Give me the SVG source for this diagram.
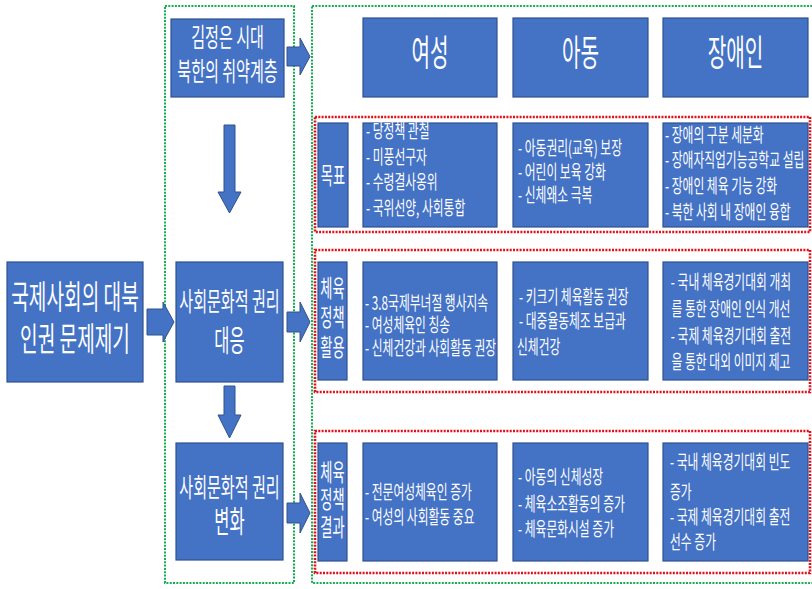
<svg xmlns="http://www.w3.org/2000/svg" width="812" height="589" viewBox="0 0 812 589">
<style>
.box{fill:#4472C4;stroke:#2F528F;stroke-width:1.2}
.arr{fill:#4472C4;stroke:#2F528F;stroke-width:1}
.g{fill:none;stroke:#12B050;stroke-width:2;stroke-dasharray:2 1.3}
.r{fill:none;stroke:#E0101A;stroke-width:2.6;stroke-dasharray:2 1.3}
text{font-family:"Noto Sans CJK KR","Noto Sans",sans-serif;fill:#fff}
.c{text-anchor:middle}
.s{font-size:19px}
</style>
<rect width="812" height="589" fill="#fff"/>
<g id="containers">
<rect class="g" x="165" y="6" width="129" height="577"/>
<rect class="g" x="312" y="6" width="510" height="577"/>
<rect class="r" x="315" y="117" width="495" height="115"/>
<rect class="r" x="315" y="250" width="495" height="142"/>
<rect class="r" x="315" y="431" width="495" height="142"/>
</g>
<g id="connectors">
<polygon class="arr" points="147,309 163,309 163,302 174,322 163,342 163,335 147,335"/>
<polygon class="arr" points="287,47 300,47 300,38 310,56.5 300,75 300,66 287,66"/>
<polygon class="arr" points="287,312 300,312 300,302 310,322 300,342 300,332 287,332"/>
<polygon class="arr" points="287,503 300,503 300,493 310,513 300,533 300,523 287,523"/>
<polygon class="arr" points="224,125 235,125 235,192 241,192 229.5,213 218,192 224,192"/>
<polygon class="arr" points="224,386 235,386 235,415 241,415 229.5,438 218,415 224,415"/>
</g>
<g id="n-intl">
<rect class="box" x="7" y="262" width="136" height="120"/>
<text class="c" font-size="33" transform="translate(75,309) scale(0.58,1)">국제사회의 대북</text>
<text class="c" font-size="33" transform="translate(75,351) scale(0.58,1)">인권 문제제기</text>
</g>
<g id="n-kim">
<rect class="box" x="171" y="19" width="113" height="78"/>
<text class="c" font-size="26" transform="translate(227.5,47) scale(0.58,1)">김정은 시대</text>
<text class="c" font-size="26" transform="translate(227.5,81) scale(0.58,1)">북한의 취약계층</text>
</g>
<g id="n-response">
<rect class="box" x="176" y="262" width="107" height="120"/>
<text class="c" font-size="26" transform="translate(229.5,311) scale(0.58,1)">사회문화적 권리</text>
<text class="c" font-size="30" transform="translate(229.5,351) scale(0.55,1)">대응</text>
</g>
<g id="n-change">
<rect class="box" x="176" y="443" width="107" height="117"/>
<text class="c" font-size="26" transform="translate(229.5,497) scale(0.58,1)">사회문화적 권리</text>
<text class="c" font-size="30" transform="translate(229.5,532) scale(0.55,1)">변화</text>
</g>
<g id="h-women">
<rect class="box" x="363" y="18" width="134" height="79"/>
<text class="c" font-size="36" transform="translate(430,66) scale(0.56,1)">여성</text>
</g>
<g id="h-child">
<rect class="box" x="513" y="18" width="135" height="79"/>
<text class="c" font-size="36" transform="translate(580.5,66) scale(0.56,1)">아동</text>
</g>
<g id="h-disabled">
<rect class="box" x="663" y="18" width="145" height="79"/>
<text class="c" font-size="36" transform="translate(735.5,66) scale(0.56,1)">장애인</text>
</g>
<g id="l-goal">
<rect class="box" x="318" y="123" width="30" height="104"/>
<text class="c" font-size="24" transform="translate(333,184) scale(0.55,1)">목표</text>
</g>
<g id="c-goal-women">
<rect class="box" x="363" y="123" width="134" height="104"/>
<text class="s" transform="translate(366,138) scale(0.62,1)">- 당정책 관철</text>
<text class="s" transform="translate(366,164) scale(0.62,1)">- 미풍선구자</text>
<text class="s" transform="translate(366,189) scale(0.62,1)">- 수령결사옹위</text>
<text class="s" transform="translate(366,215) scale(0.62,1)">- 국위선양, 사회통합</text>
</g>
<g id="c-goal-child">
<rect class="box" x="513" y="123" width="135" height="104"/>
<text class="s" transform="translate(518,155) scale(0.62,1)">- 아동권리(교육) 보장</text>
<text class="s" transform="translate(518,179) scale(0.62,1)">- 어린이 보육 강화</text>
<text class="s" transform="translate(518,202) scale(0.62,1)">- 신체왜소 극복</text>
</g>
<g id="c-goal-disabled">
<rect class="box" x="663" y="123" width="145" height="104"/>
<text class="s" transform="translate(665,142) scale(0.62,1)">- 장애의 구분 세분화</text>
<text class="s" transform="translate(665,167) scale(0.62,1)">- 장애자직업기능공학교 설립</text>
<text class="s" transform="translate(665,193) scale(0.62,1)">- 장애인 체육 기능 강화</text>
<text class="s" transform="translate(665,219) scale(0.62,1)">- 북한 사회 내 장애인 융합</text>
</g>
<g id="l-use">
<rect class="box" x="318" y="262" width="29" height="118"/>
<text class="c" font-size="24" transform="translate(332.5,297) scale(0.55,1)">체육</text>
<text class="c" font-size="24" transform="translate(332.5,326) scale(0.55,1)">정책</text>
<text class="c" font-size="24" transform="translate(332.5,356) scale(0.55,1)">활용</text>
</g>
<g id="c-use-women">
<rect class="box" x="363" y="262" width="134" height="118"/>
<text class="s" transform="translate(365,310) scale(0.62,1)">- 3.8국제부녀절 행사지속</text>
<text class="s" transform="translate(365,332) scale(0.62,1)">- 여성체육인 칭송</text>
<text class="s" transform="translate(365,355) scale(0.62,1)">- 신체건강과 사회활동 권장</text>
</g>
<g id="c-use-child">
<rect class="box" x="513" y="262" width="135" height="118"/>
<text class="s" transform="translate(519,304) scale(0.62,1)">- 키크기 체육활동 권장</text>
<text class="s" transform="translate(519,328) scale(0.62,1)">- 대중율동체조 보급과</text>
<text class="s" transform="translate(517,354) scale(0.62,1)">신체건강</text>
</g>
<g id="c-use-disabled">
<rect class="box" x="663" y="262" width="145" height="118"/>
<text class="s c" transform="translate(731,289) scale(0.62,1)">- 국내 체육경기대회 개최</text>
<text class="s c" transform="translate(731,316) scale(0.62,1)">를 통한 장애인 인식 개선</text>
<text class="s c" transform="translate(731,343) scale(0.62,1)">- 국제 체육경기대회 출전</text>
<text class="s c" transform="translate(731,369) scale(0.62,1)">을 통한 대외 이미지 제고</text>
</g>
<g id="l-result">
<rect class="box" x="318" y="443" width="29" height="118"/>
<text class="c" font-size="24" transform="translate(332.5,481) scale(0.55,1)">체육</text>
<text class="c" font-size="24" transform="translate(332.5,508) scale(0.55,1)">정책</text>
<text class="c" font-size="24" transform="translate(332.5,536) scale(0.55,1)">결과</text>
</g>
<g id="c-result-women">
<rect class="box" x="363" y="443" width="134" height="118"/>
<text class="s" transform="translate(365,499) scale(0.62,1)">- 전문여성체육인 증가</text>
<text class="s" transform="translate(365,524) scale(0.62,1)">- 여성의 사회활동 중요</text>
</g>
<g id="c-result-child">
<rect class="box" x="513" y="443" width="135" height="118"/>
<text class="s" transform="translate(518,484) scale(0.62,1)">- 아동의 신체성장</text>
<text class="s" transform="translate(518,511) scale(0.62,1)">- 체육소조활동의 증가</text>
<text class="s" transform="translate(518,536) scale(0.62,1)">- 체육문화시설 증가</text>
</g>
<g id="c-result-disabled">
<rect class="box" x="663" y="443" width="145" height="118"/>
<text class="s" transform="translate(670,469) scale(0.62,1)">- 국내 체육경기대회 빈도</text>
<text class="s" transform="translate(670,499) scale(0.62,1)">증가</text>
<text class="s" transform="translate(670,524) scale(0.62,1)">- 국제 체육경기대회 출전</text>
<text class="s" transform="translate(670,549) scale(0.62,1)">선수 증가</text>
</g>
</svg>
